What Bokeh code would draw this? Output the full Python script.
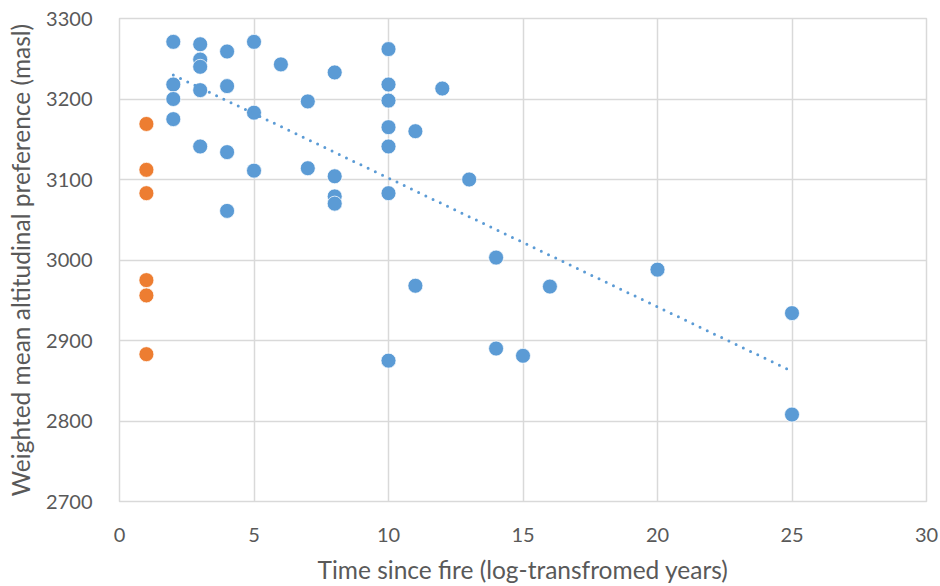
import numpy as np
from bokeh.plotting import figure
from bokeh.models import Range1d, FixedTicker
from bokeh.embed import file_html
from bokeh.resources import INLINE

# Burned sites (blue series)
blue_x = [2, 2, 2, 2,
          3, 3, 3, 3, 3,
          4, 4, 4, 4,
          5, 5, 5,
          6,
          7, 7,
          8, 8, 8, 8,
          10, 10, 10, 10, 10, 10, 10,
          11, 11,
          12,
          13,
          14, 14,
          15,
          16,
          20,
          25, 25]
blue_y = [3271, 3218, 3200, 3175,
          3268, 3249, 3240, 3211, 3141,
          3259, 3216, 3134, 3061,
          3271, 3183, 3111,
          3243,
          3197, 3114,
          3233, 3104, 3079, 3070,
          3262, 3218, 3198, 3165, 3141, 3083, 2875,
          3160, 2968,
          3213,
          3100,
          3003, 2890,
          2881,
          2967,
          2988,
          2934, 2808]

# Recently burned sites (orange series)
orange_x = [1, 1, 1, 1, 1, 1]
orange_y = [3169, 3112, 3083, 2975, 2956, 2883]

x_ticks = [0, 5, 10, 15, 20, 25, 30]
y_ticks = [2700, 2800, 2900, 3000, 3100, 3200, 3300]

BLUE = "#5B9BD5"
ORANGE = "#ED7D31"
GRID = "#D9D9D9"
TXT = "#595959"
FONT = "Lato"

p = figure(width=940, height=586, output_backend="svg", toolbar_location=None,
           x_range=Range1d(0, 30), y_range=Range1d(2700, 3300),
           min_border_left=119, min_border_right=14, min_border_top=18, min_border_bottom=85)
p.background_fill_color = "white"
p.border_fill_color = "white"
p.outline_line_color = GRID
p.outline_line_width = 1.5

p.xaxis.ticker = FixedTicker(ticks=x_ticks)
p.yaxis.ticker = FixedTicker(ticks=y_ticks)
p.xgrid.ticker = FixedTicker(ticks=x_ticks)
p.ygrid.ticker = FixedTicker(ticks=y_ticks)
p.grid.grid_line_color = GRID
p.grid.grid_line_width = 1.5

for ax in (p.xaxis[0], p.yaxis[0]):
    ax.axis_line_color = None
    ax.major_tick_line_color = None
    ax.minor_tick_line_color = None
    ax.major_label_text_font = FONT
    ax.major_label_text_font_size = "20px"
    ax.major_label_text_color = TXT
    ax.axis_label_text_font = FONT
    ax.axis_label_text_font_size = "24.5px"
    ax.axis_label_text_color = TXT
    ax.axis_label_text_font_style = "normal"

p.xaxis.axis_label = "Time since fire (log-transfromed years)"
p.yaxis.axis_label = "Weighted mean altitudinal preference (masl)"
p.xaxis.major_label_standoff = 20
p.yaxis.major_label_standoff = 21
p.xaxis.axis_label_standoff = 10
p.yaxis.axis_label_standoff = 8

p.scatter(blue_x, blue_y, size=15, fill_color=BLUE, line_color="white", line_width=0.75)
p.scatter(orange_x, orange_y, size=15, fill_color=ORANGE, line_color="white", line_width=0.75)

# Linear trendline of blue series
slope, intercept = np.polyfit(blue_x, blue_y, 1)
tx = np.array([min(blue_x), max(blue_x)], dtype=float)
p.line(tx, slope * tx + intercept, line_color=BLUE, line_width=3,
       line_dash="0 8", line_cap="round")

open("out.html", "w").write(file_html(p, INLINE))
